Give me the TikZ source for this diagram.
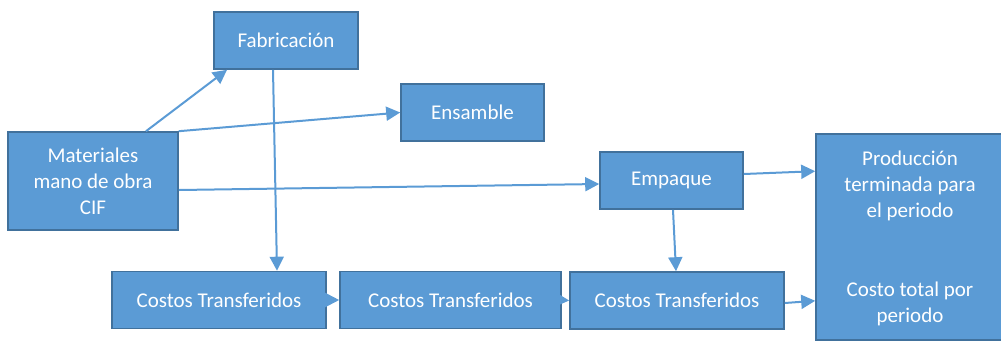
\documentclass[tikz,border=0pt]{standalone}
\usepackage{fontspec}
\setmainfont{Carlito}
\usetikzlibrary{arrows.meta,calc}
\definecolor{boxfill}{HTML}{5B9BD5}
\definecolor{boxline}{HTML}{41719C}
\tikzset{
  blk/.style={draw=boxline, line width=1.6pt, fill=boxfill, text=white, inner sep=0pt,
    align=center, font=\fontsize{21}{26}\selectfont},
  txt/.style={text=white, inner sep=0pt, align=center, font=\fontsize{21}{26}\selectfont},
  conn/.style={draw=boxfill, line width=2pt, -{Triangle[length=14pt,width=14pt]}}
}
\begin{document}
\begin{tikzpicture}[x=1pt,y=-1pt]
\useasboundingbox (0,0) rectangle (1001,341);
\node[blk, minimum width=144pt, minimum height=57pt] (fab) at (286,40.5) {Fabricación};
\node[blk, minimum width=143pt, minimum height=57pt] (ens) at (472.5,112.5) {Ensamble};
\node[blk, minimum width=170pt, minimum height=98pt] (mat) at (93,181) {Materiales\\mano de obra\\CIF};
\node[blk, minimum width=143pt, minimum height=57pt] (emp) at (671.5,180.5) {Empaque};
\node[blk, minimum width=200pt, minimum height=206pt] (prod) at (916,237) {};
\node[txt] (prodt) at (910,186) {Producción\\terminada para\\el periodo};
\node[txt] (costt) at (910,304) {Costo total por\\periodo};
\node[blk, minimum width=214pt, minimum height=57pt] (ct1) at (219,300) {Costos Transferidos};
\node[blk, minimum width=221pt, minimum height=57pt] (ct2) at (450.5,300) {Costos Transferidos};
\node[blk, minimum width=214pt, minimum height=57pt] (ct3) at (677,300.5) {Costos Transferidos};
\draw[conn] ([xshift=53pt]mat.north) -- ([xshift=-59pt]fab.south);
\draw[conn] (mat.north east) -- (ens.west);
\draw[conn] ([yshift=-9pt]mat.east) -- ([yshift=-3.5pt]emp.west);
\draw[conn] ([xshift=-13pt]fab.south) -- ([xshift=58pt]ct1.north);
\draw[conn] (ct1.east) -- (ct2.west);
\draw[conn] (ct2.east) -- (ct3.west);
\draw[conn] ([xshift=1.5pt]emp.south) -- ([xshift=-1pt]ct3.north);
\draw[conn] ([yshift=6.5pt]emp.east) -- ([yshift=-38pt]prod.north west);
\draw[conn] ([yshift=-2.5pt]ct3.east) -- ([yshift=40pt]prod.south west);
\end{tikzpicture}
\end{document}
